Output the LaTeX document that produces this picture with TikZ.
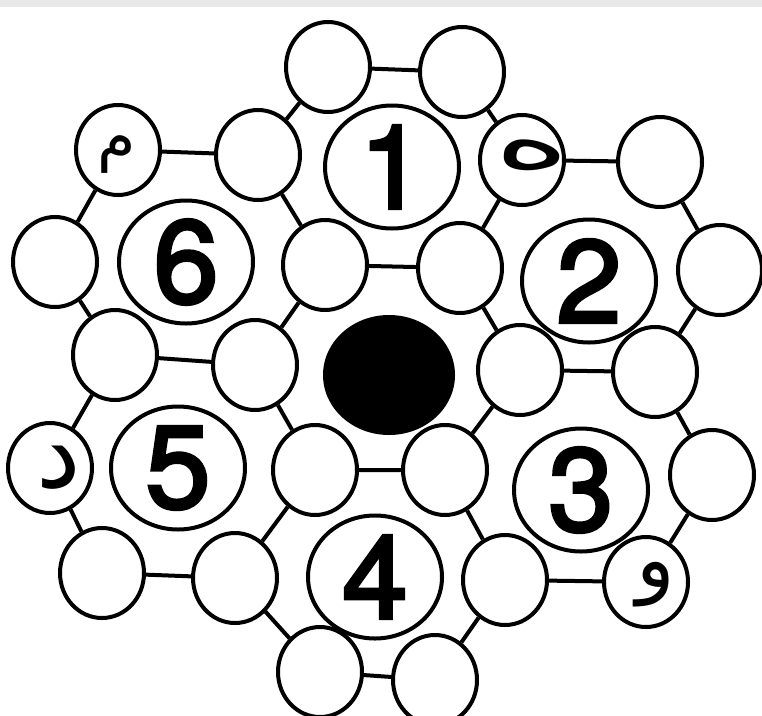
\documentclass[tikz,border=0pt]{standalone}
\usepackage{fontspec}
\usepackage{graphicx}
\setmainfont{TeX Gyre Heros}
\newfontfamily\digitfont[FakeBold=3]{TeX Gyre Heros}
\newfontfamily\arabicfont[Script=Arabic]{DejaVu Sans}
\TeXXeTstate=1
\usetikzlibrary{shapes.geometric,backgrounds}
\begin{document}
\begin{tikzpicture}[x=1pt,y=-1pt,
 smallc/.style={ellipse,draw,line width=4pt,fill=white,minimum width=84pt,minimum height=90pt,inner sep=0pt},
 bigc/.style={ellipse,draw,line width=4pt,fill=white,minimum width=134pt,minimum height=123pt,inner sep=0pt,font=\digitfont\fontsize{117}{117}\selectfont},
 hub/.style={ellipse,fill=black,minimum width=132pt,minimum height=120pt,inner sep=0pt},
 link/.style={line width=4pt},
 letter/.style={inner sep=0pt}
]
\useasboundingbox (0,0) rectangle (762,715);
% inner ring
\node[smallc] (i1) at (325,265) {};
\node[smallc] (i2) at (460,268) {};
\node[smallc] (i3) at (520,370) {};
\node[smallc] (i4) at (445,470) {};
\node[smallc] (i5) at (315,470) {};
\node[smallc] (i6) at (255,365) {};
% outer ring
\node[smallc] (a1) at (328,67) {};
\node[smallc] (a2) at (462,72) {};
\node[smallc] (m) at (118,150) {};
\node[smallc] (b) at (258,155) {};
\node[smallc] (h) at (522,160) {};
\node[smallc] (c) at (660,162) {};
\node[smallc] (d1) at (55,262) {};
\node[smallc] (e) at (720,270) {};
\node[smallc] (f) at (115,355) {};
\node[smallc] (g) at (655,372) {};
\node[smallc] (dl) at (50,468) {};
\node[smallc] (k) at (712,475) {};
\node[smallc] (l) at (102,573) {};
\node[smallc] (n) at (235,578) {};
\node[smallc] (o) at (505,580) {};
\node[smallc] (w) at (646,582) {};
\node[smallc] (p) at (320,672) {};
\node[smallc] (q) at (435,680) {};
% big circles
\node[bigc] (n1) at (392,167) {1};
\node[bigc] (n2) at (589,281) {2};
\node[bigc] (n3) at (581,490) {3};
\node[bigc] (n4) at (375,577) {4};
\node[bigc] (n5) at (178,468) {5};
\node[bigc] (n6) at (186,262) {6};
\node[hub] (hub) at (389,375) {};
% letters
\node[letter] (tm) at (117,155) {\arabicfont\fontsize{62}{62}\selectfont\beginR م\endR};
\node[letter] (th) at (532,155) {\arabicfont\fontsize{80}{80}\selectfont\scalebox{1.8}[1]{\beginR ه\endR}};
\node[letter] (td) at (59,468) {\arabicfont\fontsize{100}{100}\selectfont\beginR د\endR};
\node[letter] (tw) at (656,585) {\arabicfont\fontsize{80}{80}\selectfont\beginR و\endR};
% edges
\begin{scope}[on background layer]
\fill[white] (0,0) rectangle (762,715);
\fill[black!9] (0,0) rectangle (762,7);
\draw[link] (a1) -- (a2) -- (h) -- (i2) -- (i1) -- (b) -- (a1);
\draw[link] (h) -- (c) -- (e) -- (g) -- (i3) -- (i2);
\draw[link] (g) -- (k) -- (w) -- (o) -- (i4) -- (i3);
\draw[link] (i4) -- (i5) -- (n) -- (p) -- (q) -- (o);
\draw[link] (n) -- (l) -- (dl) -- (f) -- (i6) -- (i5);
\draw[link] (b) -- (m) -- (d1) -- (f);
\draw[link] (i6) -- (i1);
\end{scope}
\end{tikzpicture}
\end{document}
